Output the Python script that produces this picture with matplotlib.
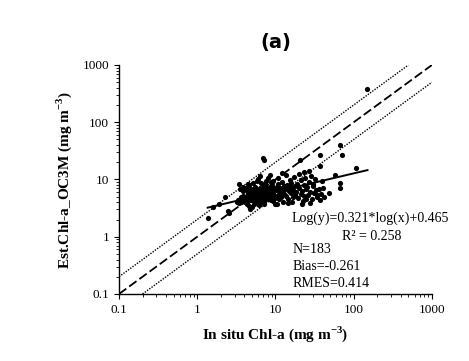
import numpy as np
import matplotlib as mpl
import matplotlib.pyplot as plt

# in situ chl-a (x) vs OC3M estimate (y)
insitu = [
    3.2, 3.4, 3.5, 3.6, 3.7, 3.8, 3.9, 3.3, 3.6, 3.9, 3.5, 3.8,
    4.1, 4.2, 4.3, 4.4, 4.5, 4.6, 4.7, 4.8, 4.9, 4.2, 4.4, 4.6, 4.8, 4.9, 4.3, 4.5,
    5.0, 5.1, 5.2, 5.3, 5.4, 5.5, 5.6, 5.7, 5.8, 5.9, 5.0, 5.2, 5.4, 5.6, 5.8, 5.3, 5.5, 5.9,
    6.0, 6.1, 6.2, 6.3, 6.4, 6.5, 6.6, 6.7, 6.8, 6.9, 6.0, 6.2, 6.4, 6.6, 6.8, 6.3,
    7.0, 7.1, 7.2, 7.3, 7.4, 7.5, 7.6, 7.7, 7.8, 7.9, 7.1, 7.4, 7.7, 7.3,
    8.0, 8.2, 8.4, 8.6, 8.8, 9.0, 9.2, 9.4, 9.6, 9.8, 8.1, 8.5, 8.9, 9.3, 9.7, 8.3, 8.7, 9.1, 9.5, 9.9,
    10.2, 10.5, 10.8, 11.1, 11.4, 11.7, 12.0, 12.3, 12.6, 12.9, 10.4, 10.9, 11.5, 12.1, 12.7, 10.6, 11.2, 11.9,
    13.2, 13.6, 14.0, 14.4, 14.8, 15.2, 15.6, 16.0, 16.5, 17.0, 17.5, 18.0, 13.8, 14.6, 15.9, 16.8, 17.7,
    18.5, 19.0, 19.5, 20.0, 20.5, 21.0, 21.5, 22.0, 22.5, 23.0, 23.5, 24.0, 24.5, 19.8, 21.8, 23.3, 24.8,
    25.5, 26.0, 27.0, 28.0, 29.0, 30.0, 31.0, 32.0, 33.0, 34.0, 26.5, 28.5, 30.5, 33.5, 27.5,
    36.0, 37.0, 37.5, 37.5, 38.0, 40.0, 42.0, 48.0, 39.0,
    149, 6.96, 7.2, 66, 70, 108, 57, 66, 66, 1.36, 1.6, 2.26, 2.5, 2.55, 3.4, 1.9,
]
est = [
    4.0, 3.9, 4.3, 4.1, 4.6, 5.2, 4.2, 4.4, 5.0, 6.3, 6.8, 7.3,
    4.0, 4.6, 5.1, 5.8, 6.4, 3.4, 3.0, 4.3, 5.5, 7.1, 8.3, 8.0, 6.9, 4.9, 3.7, 4.2,
    5.2, 6.1, 4.4, 3.8, 7.5, 5.7, 4.8, 6.6, 9.5, 5.1, 3.3, 8.6, 4.1, 6.0, 4.5, 5.4, 7.0, 3.7,
    6.3, 4.9, 5.6, 7.2, 4.2, 5.9, 8.8, 5.2, 6.7, 4.6, 10.2, 3.6, 6.0, 5.4, 4.0, 11.3,
    5.0, 6.4, 7.8, 4.4, 5.7, 9.3, 6.1, 4.8, 7.0, 5.3, 3.8, 8.5, 6.6, 5.9,
    6.0, 4.6, 7.4, 5.2, 8.9, 6.4, 4.2, 5.6, 7.0, 3.7, 10.5, 12.1, 6.8, 9.6, 5.0, 5.5, 4.4, 7.9, 6.2, 4.8,
    6.6, 5.1, 8.3, 4.5, 7.1, 5.8, 9.2, 6.2, 4.0, 7.6, 3.8, 10.8, 5.4, 12.8, 5.6, 7.3, 6.0, 4.9,
    6.9, 5.2, 8.0, 4.5, 6.3, 9.7, 5.7, 7.3, 4.1, 6.6, 11.0, 5.3, 12.2, 3.9, 8.6, 5.0, 7.7,
    6.0, 8.4, 4.7, 7.0, 21.9, 5.5, 9.9, 6.4, 4.2, 7.9, 5.1, 10.6, 6.8, 12.5, 3.8, 13.5, 4.6,
    7.3, 5.4, 9.0, 6.1, 4.5, 7.8, 5.7, 10.3, 6.5, 4.9, 14.0, 11.5, 8.5, 5.3, 3.9,
    6.8, 4.4, 17.5, 26.5, 5.6, 7.2, 5.0, 5.9, 9.5,
    380, 23.8, 21.9, 40, 27, 15.7, 12, 8.6, 7.0, 2.1, 3.3, 4.9, 2.8, 2.65, 8.2, 3.7,
]

slope = 0.321
intercept = 0.465
fit_range = [1.36, 150]
line_range = [0.1, 1000]

mpl.rcParams['font.family'] = ['Liberation Serif', 'DejaVu Serif']
mpl.rcParams['mathtext.fontset'] = 'custom'
mpl.rcParams['mathtext.rm'] = 'Liberation Serif'
mpl.rcParams['mathtext.bf'] = 'Liberation Serif:bold'

fig = plt.figure(figsize=(4.69, 3.61), dpi=100, facecolor='w')
ax = fig.add_axes([0.2537, 0.1856, 0.6673, 0.6344])

xl = np.array(line_range)
ax.plot(xl, xl, color='black', lw=1.3, dashes=(5, 2))
ax.plot([0.1, 500], [0.2, 1000], color='black', lw=1.0, dashes=(1, 1))
ax.plot([0.2, 1000], [0.1, 500], color='black', lw=1.0, dashes=(1, 1))

ax.scatter(insitu, est, s=14, color='black', zorder=3, linewidths=0)

xf = np.logspace(np.log10(fit_range[0]), np.log10(fit_range[1]), 50)
ax.plot(xf, 10 ** (slope * np.log10(xf) + intercept), color='black', lw=1.4, zorder=4)

ax.set_xscale('log')
ax.set_yscale('log')
ax.set_xlim(0.1, 1000)
ax.set_ylim(0.1, 1000)
ticks = [0.1, 1, 10, 100, 1000]
labels = ['0.1', '1', '10', '100', '1000']
ax.set_xticks(ticks)
ax.set_xticklabels(labels)
ax.set_yticks(ticks)
ax.set_yticklabels(labels)
ax.tick_params(which='major', direction='out', length=3.5, width=0.8, labelsize=9.5)
ax.tick_params(which='minor', direction='out', length=2, width=0.6)
for s in ['top', 'right']:
    ax.spines[s].set_visible(False)
for s in ['left', 'bottom']:
    ax.spines[s].set_linewidth(1.0)

ax.set_xlabel(r'In situ Chl-a (mg m$^{\mathbf{-3}}$)', fontsize=11, fontweight='bold', labelpad=6)
ax.set_ylabel(r'Est.Chl-a_OC3M (mg m$^{\mathbf{-3}}$)', fontsize=11, fontweight='bold', labelpad=6)
fig.text(0.589, 0.883, '(a)', fontsize=14, fontweight='bold', ha='center', va='center',
         family=['DejaVu Sans'])

tk = dict(transform=ax.transAxes, fontsize=10, va='center')
ax.text(0.55, 0.332, 'Log(y)=0.321*log(x)+0.465', **tk)
ax.text(0.712, 0.249, 'R² = 0.258', **tk)
ax.text(0.553, 0.195, 'N=183', **tk)
ax.text(0.553, 0.12, 'Bias=-0.261', **tk)
ax.text(0.553, 0.046, 'RMES=0.414', **tk)

plt.savefig('out.png', dpi=100)
